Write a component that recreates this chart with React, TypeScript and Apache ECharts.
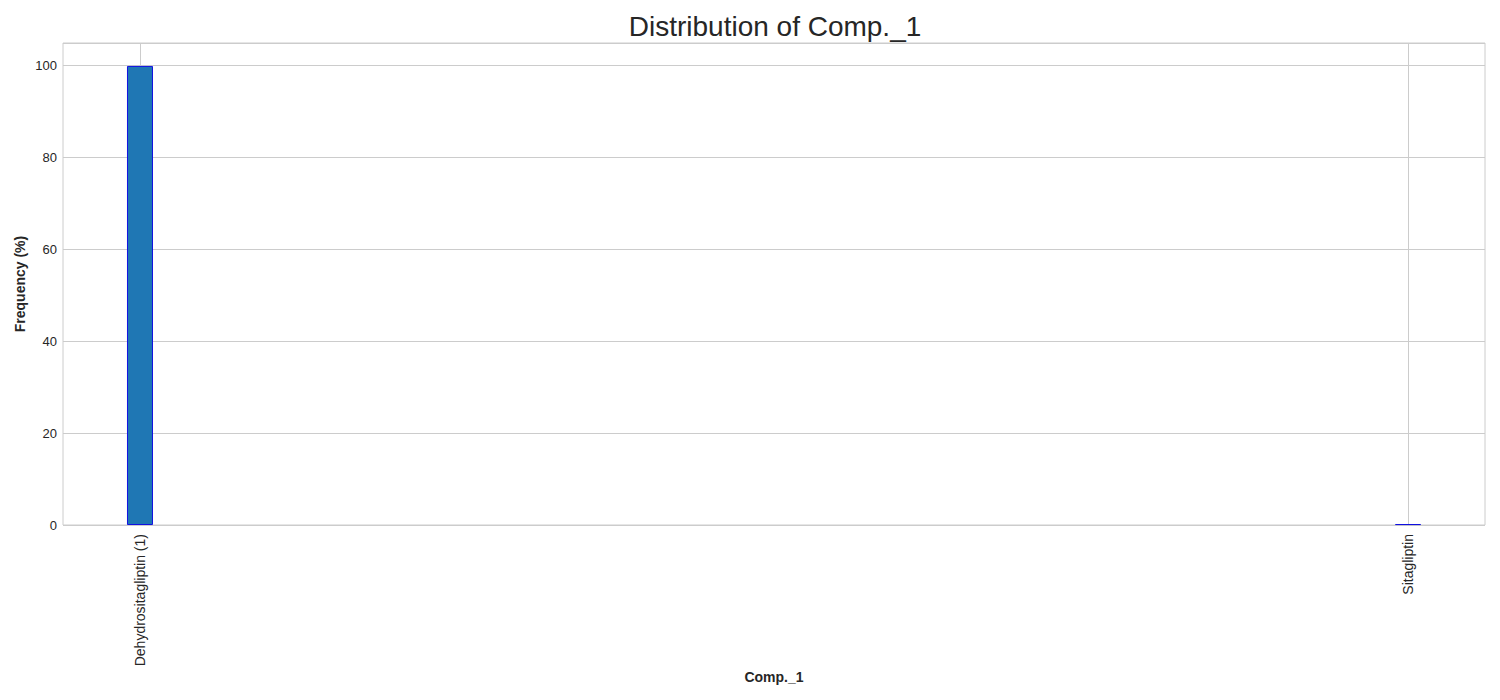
import React, { useEffect, useRef } from "react";
import * as echarts from "echarts";

const categories = ["Dehydrositagliptin (1)", "Sitagliptin"];
const positions = [0, 1];
const frequencies = [99.8, 0.2];
const yTicks = [0, 20, 40, 60, 80, 100];

const FONT = "'Liberation Sans', Arial, sans-serif";

export default function App() {
  const ref = useRef<HTMLDivElement>(null);
  useEffect(() => {
    if (!ref.current) return;
    const chart = echarts.init(ref.current, undefined, { renderer: "svg" });
    chart.setOption({
      animation: false,
      textStyle: { fontFamily: FONT },
      title: {
        text: "Distribution of Comp._1",
        left: 770,
        textAlign: "center",
        top: 7,
        textStyle: { fontFamily: FONT, fontSize: 28, fontWeight: "normal", color: "#262626" },
      },
      grid: {
        left: 63,
        top: 43,
        width: 1422,
        height: 482,
        show: true,
        borderColor: "#cccccc",
        borderWidth: 1,
        containLabel: false,
      },
      xAxis: {
        type: "value",
        min: -0.0607,
        max: 1.0607,
        name: "Comp._1",
        nameLocation: "middle",
        nameMoveOverlap: false,
        nameGap: 145,
        nameTextStyle: { fontFamily: FONT, fontSize: 14, fontWeight: "bold", color: "#262626", verticalAlign: "top" },
        axisLine: { show: false },
        axisTick: { show: false, customValues: positions },
        axisLabel: {
          customValues: positions,
          rotate: 90,
          margin: 9,
          fontFamily: FONT,
          fontSize: 14,
          color: "#262626",
          formatter: (v: number) => {
            const i = positions.indexOf(Math.round(v));
            return i >= 0 ? categories[i] : "";
          },
        },
        splitLine: { show: true, lineStyle: { color: "#cccccc", width: 1 } },
      },
      yAxis: {
        type: "value",
        min: 0,
        max: 104.79,
        interval: 20,
        name: "Frequency (%)",
        nameLocation: "middle",
        nameMoveOverlap: false,
        nameGap: 36,
        nameTextStyle: { fontFamily: FONT, fontSize: 14, fontWeight: "bold", color: "#262626" },
        axisLine: { show: false },
        axisTick: { show: false },
        axisLabel: {
          margin: 6,
          fontFamily: FONT,
          fontSize: 13,
          color: "#262626",
          formatter: (v: number) => (yTicks.includes(v) ? String(v) : ""),
        },
        splitLine: { show: true, lineStyle: { color: "#cccccc", width: 1 } },
      },
      series: [
        {
          type: "bar",
          barWidth: 26,
          data: positions.map((p, i) => [p, frequencies[i]]),
          itemStyle: { color: "#1f77b4", borderColor: "#1010e0", borderWidth: 1 },
        },
      ],
    });
    return () => chart.dispose();
  }, []);
  return (
    <div
      ref={ref}
      style={{ position: "fixed", left: 0, top: 0, width: 1500, height: 700, background: "#ffffff" }}
    />
  );
}
